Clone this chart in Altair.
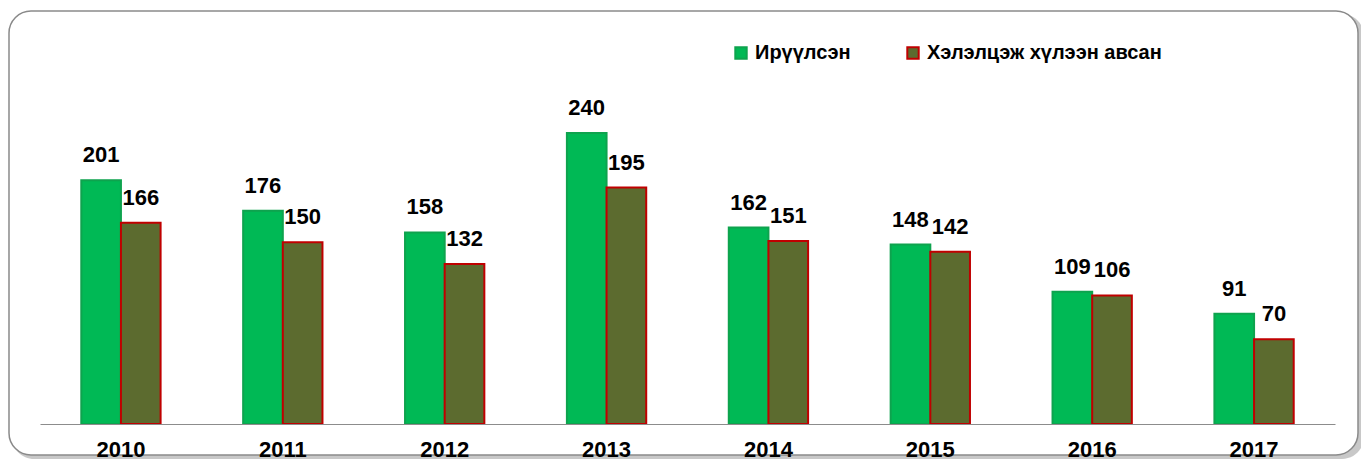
import altair as alt
import pandas as pd

years = ["2010", "2011", "2012", "2013", "2014", "2015", "2016", "2017"]
series_names = ["Ирүүлсэн", "Хэлэлцэж хүлээн авсан"]
submitted = [201, 176, 158, 240, 162, 148, 109, 91]
accepted = [166, 150, 132, 195, 151, 142, 106, 70]

rows = []
for y, a, b in zip(years, submitted, accepted):
    rows.append({"year": y, "series": series_names[0], "value": a})
    rows.append({"year": y, "series": series_names[1], "value": b})
df = pd.DataFrame(rows)

FONT = "Liberation Sans"

x_enc = alt.X("year:N", sort=years,
              scale=alt.Scale(paddingInner=0.51, paddingOuter=0.255),
              axis=alt.Axis(title=None, ticks=False, tickSize=0, grid=False,
                            labelFont=FONT, labelFontSize=22, labelFontWeight="bold",
                            labelColor="#000000", labelPadding=15, labelAngle=0,
                            domainColor="#8c8c8c", domainWidth=1.2, zindex=1))
xoff = alt.XOffset("series:N", sort=series_names,
                   scale=alt.Scale(domain=series_names, paddingInner=0, paddingOuter=0))
y_enc = alt.Y("value:Q", scale=alt.Scale(domain=[0, 325], nice=False, zero=True), axis=None)

legend = alt.Legend(title=None, orient="none", legendX=691, legendY=13,
                    direction="horizontal", symbolType="square",
                    symbolSize=130, symbolStrokeWidth=2, labelLimit=0,
                    labelFont=FONT, labelFontSize=20, labelFontWeight="bold",
                    labelColor="#000000", labelOffset=4, columnPadding=52)

frame_src = pd.DataFrame({"k": [0]})
shadow = alt.Chart(frame_src).mark_rect(cornerRadius=22, fill="#9a9a9a", opacity=0.55).encode(
    x=alt.value(-28), x2=alt.value(1324), y=alt.value(-16), y2=alt.value(429))
frame = alt.Chart(frame_src).mark_rect(cornerRadius=22, fill="#ffffff",
                                       stroke="#8a8a8a", strokeWidth=1.5).encode(
    x=alt.value(-31), x2=alt.value(1318), y=alt.value(-19), y2=alt.value(425))

bars = alt.Chart(df).mark_bar(strokeWidth=2).encode(
    x=x_enc, xOffset=xoff, y=y_enc,
    fill=alt.Fill("series:N", sort=series_names,
                  scale=alt.Scale(domain=series_names, range=["#00B955", "#5C6B2F"]),
                  legend=legend),
    stroke=alt.Stroke("series:N", sort=series_names,
                      scale=alt.Scale(domain=series_names, range=["#0EA34E", "#C00000"]),
                      legend=legend),
)

labels = alt.Chart(df).mark_text(font=FONT, fontSize=22, fontWeight="bold", color="#000000",
                                 baseline="bottom", dy=-13).encode(
    x=alt.X("year:N", sort=years), xOffset=xoff, y=y_enc, text=alt.Text("value:Q"))

chart = alt.layer(shadow, frame, bars, labels).properties(
    width=1295, height=394,
    autosize=alt.AutoSizeParams(type="none"),
    padding={"left": 32, "top": 22, "right": 26, "bottom": 40},
).configure_view(stroke=None).configure(background="#ffffff")

chart.save("out.html", embed_options={"renderer": "svg", "actions": False})
